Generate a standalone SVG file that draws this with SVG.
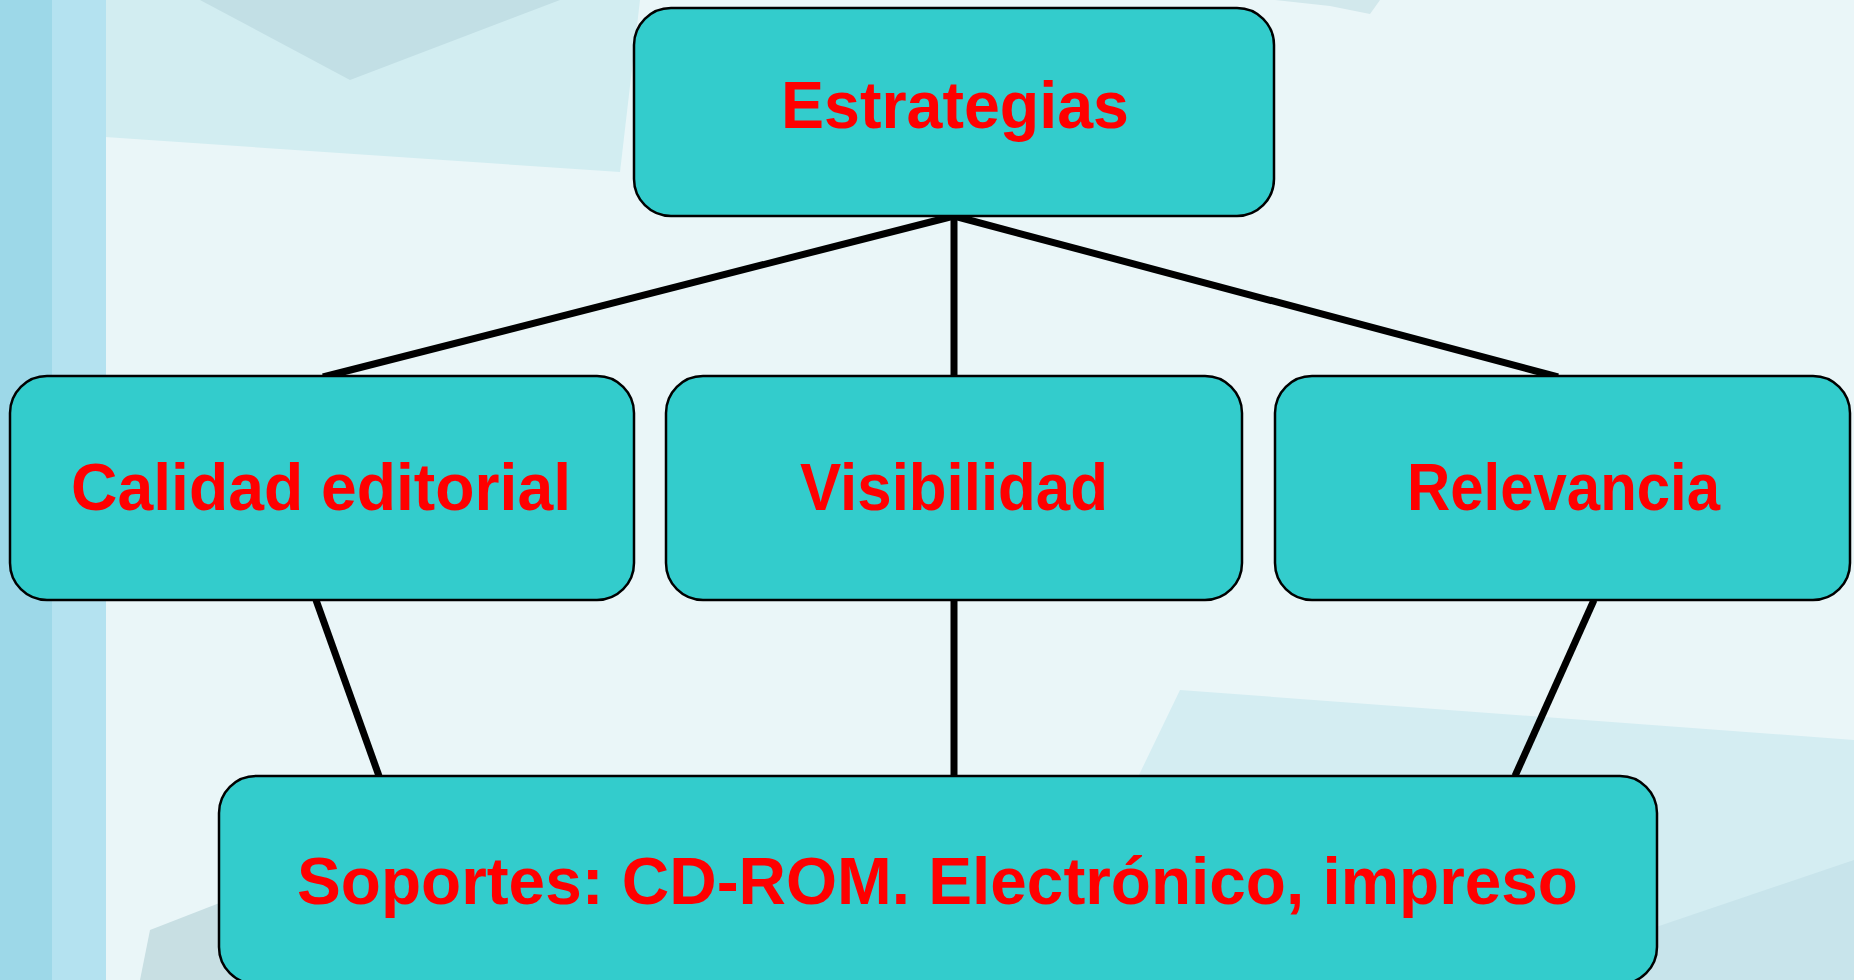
<svg xmlns="http://www.w3.org/2000/svg" width="1854" height="980" viewBox="0 0 1854 980">
<style>
.box{fill:#33CCCC;stroke:#000;stroke-width:2.5}
.lbl{fill:#FF0000;font-family:"Liberation Sans",Arial,sans-serif;font-weight:bold;font-size:66px}
.con{stroke:#000;stroke-width:7;fill:none}
</style>
<g id="background">
<rect x="0" y="0" width="1854" height="980" fill="#EAF6F8"/>
<polygon points="105,0 640,0 620,172 105,137" fill="#D2EDF1"/>
<polygon points="200,0 560,0 350,80" fill="#C2DFE5"/>
<polygon points="1275,0 1380,0 1370,14 1330,6" fill="#D2E8EC"/>
<polygon points="1180,690 1854,740 1854,980 1040,980" fill="#D4EDF2"/>
<polygon points="1500,980 1854,860 1854,980" fill="#C8E4EB"/>
<polygon points="150,930 240,895 300,980 140,980" fill="#C8DFE3"/>
<rect x="0" y="0" width="52" height="980" fill="#9DD8E8"/>
<rect x="52" y="0" width="54" height="980" fill="#B4E2F0"/>
</g>
<g id="connectors">
<line class="con" x1="954" y1="216" x2="323" y2="377"/>
<line class="con" x1="954" y1="216" x2="954" y2="376"/>
<line class="con" x1="954" y1="216" x2="1558" y2="377"/>
<line class="con" x1="316" y1="600" x2="379" y2="776"/>
<line class="con" x1="954" y1="600" x2="954" y2="776"/>
<line class="con" x1="1594" y1="600" x2="1515" y2="776"/>
</g>
<g id="estrategias">
<rect class="box" x="634" y="8" width="640" height="208" rx="37" ry="37"/>
<text class="lbl" x="781" y="128" textLength="348" lengthAdjust="spacingAndGlyphs">Estrategias</text>
</g>
<g id="calidad">
<rect class="box" x="10" y="376" width="624" height="224" rx="37" ry="37"/>
<text class="lbl" x="71" y="510" textLength="500" lengthAdjust="spacingAndGlyphs">Calidad editorial</text>
</g>
<g id="visibilidad">
<rect class="box" x="666" y="376" width="576" height="224" rx="37" ry="37"/>
<text class="lbl" x="800" y="510" textLength="308" lengthAdjust="spacingAndGlyphs">Visibilidad</text>
</g>
<g id="relevancia">
<rect class="box" x="1275" y="376" width="575" height="224" rx="37" ry="37"/>
<text class="lbl" x="1407" y="510" textLength="313" lengthAdjust="spacingAndGlyphs">Relevancia</text>
</g>
<g id="soportes">
<rect class="box" x="219" y="776" width="1438" height="208" rx="37" ry="37"/>
<text class="lbl" x="297" y="904" textLength="1281" lengthAdjust="spacingAndGlyphs">Soportes: CD-ROM. Electrónico, impreso</text>
</g>
</svg>
